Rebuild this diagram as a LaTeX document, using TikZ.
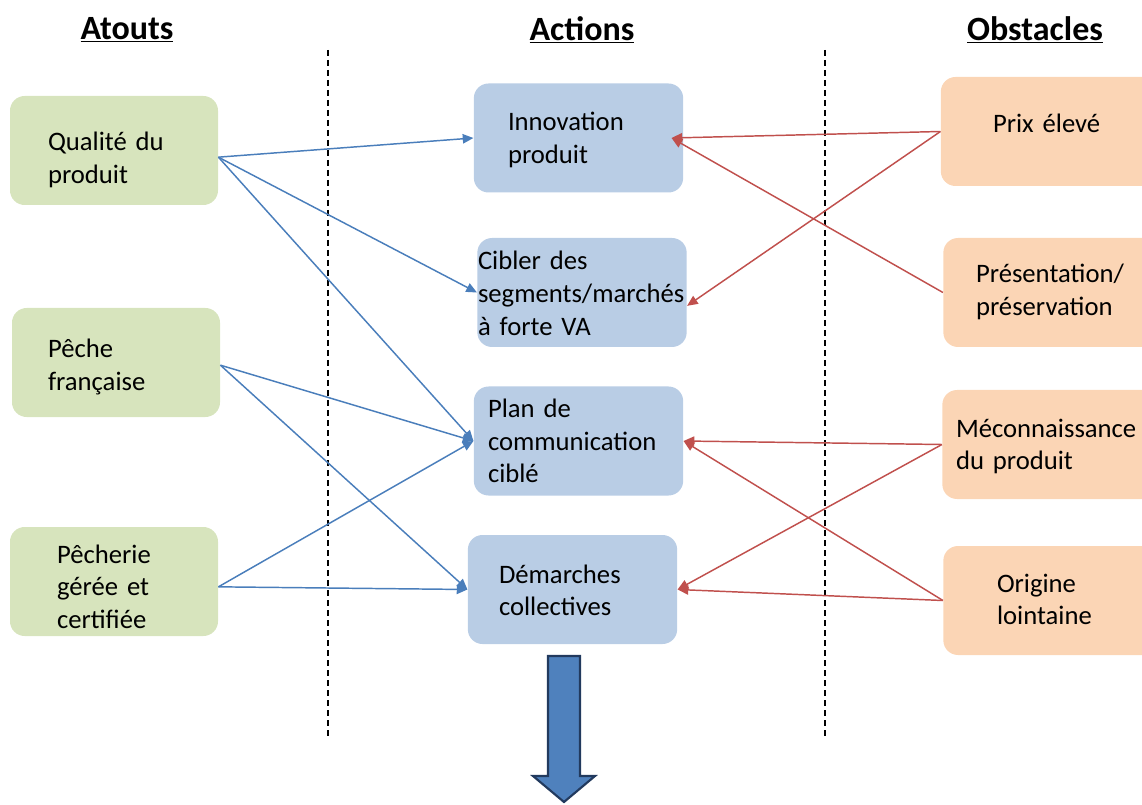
\documentclass[tikz,border=0pt]{standalone}
\usepackage{fontspec}
\setmainfont{Carlito}
\usepackage{tikz}
\usetikzlibrary{arrows.meta,positioning}

\definecolor{atoutfill}{HTML}{D7E4BD}
\definecolor{actionfill}{HTML}{B9CDE5}
\definecolor{obstaclefill}{HTML}{FBD5B5}
\definecolor{atoutline}{HTML}{4A7EBB}
\definecolor{obstacleline}{HTML}{C0504D}
\definecolor{bigarrowfill}{HTML}{4F81BD}
\definecolor{bigarrowline}{HTML}{223A5E}

\begin{document}
\begin{tikzpicture}[x=0.75pt,y=-0.75pt,>={Triangle[length=8pt,width=7pt]},semithick]
\tikzset{box/.style={rounded corners=11pt, inner xsep=0pt, minimum height=81.75pt, align=left,
  text height=0pt, text depth=0pt, font=\fontsize{20}{24.4}\selectfont},
  atout/.style={box, fill=atoutfill, minimum width=156pt},
  action/.style={box, fill=actionfill, minimum width=157pt},
  obstacle/.style={box, fill=obstaclefill, minimum width=163pt},
  heading/.style={font=\fontsize{25.5}{30}\selectfont\bfseries},
  blueline/.style={->, draw=atoutline, fill=atoutline, line width=1.1pt},
  redline/.style={->, draw=obstacleline, fill=obstacleline, line width=1.1pt},
  sep/.style={dashed, dash pattern=on 4.5pt off 3pt, line width=1.1pt}}
\path[use as bounding box] (0,0) rectangle (1142,805);
\clip (0,0) rectangle (1142,805);

\node[heading] (hatout) at (127,30) {\underline{Atouts}};
\node[heading] (haction) at (582,30) {\underline{Actions}};
\node[heading] (hobstacle) at (1035,30) {\underline{Obstacles}};

\coordinate (sepa1) at (328,50);
\coordinate (sepa2) at (328,737);
\coordinate (sepb1) at (825,50);
\coordinate (sepb2) at (825,737);
\draw[sep] (sepa1) -- (sepa2);
\draw[sep] (sepb1) -- (sepb2);

%atouts
\node[atout, text width=99pt] (qualite) at (114,150.5) {Qualit\'e du\\produit};
\node[atout, text width=102pt, text depth=6.75pt] (peche) at (116,362.5) {P\^eche\\fran\c{c}aise};
\node[atout, text width=85.5pt, text depth=27.75pt] (pecherie) at (114,581.5) {P\^echerie\\g\'er\'ee et\\certifi\'ee};

%actions
\node[action, text width=105.75pt, text depth=10.5pt] (innovation) at (578.5,138) {Innovation\\produit};
\node[action, text width=156pt, text depth=33.75pt] (cibler) at (582,292.5) {Cibler des\\segments/march\'es\\\`a forte VA};
\node[action, text width=135.75pt, text depth=35pt] (plan) at (578.5,441) {Plan de\\communication\\cibl\'e};
\node[action, text width=110.25pt, text depth=9.75pt] (demarches) at (572.5,589.5) {D\'emarches\\collectives};

%obstacles
\node[obstacle, text width=84.75pt, text height=2.25pt] (prix) at (1049.5,131.5) {Prix \'elev\'e};
\node[obstacle, text width=114pt, text depth=14.25pt] (presentation) at (1052,292.5) {Pr\'esentation/\\pr\'eservation};
\node[obstacle, text width=142.5pt, text depth=11.25pt] (meconnaissance) at (1051,444.5) {M\'econnaissance\\du produit};
\node[obstacle, text width=82.5pt, text depth=12.75pt] (origine) at (1052,600.5) {Origine\\lointaine};

%paths
\draw[blueline] ([yshift=-5pt]qualite.east) -- (innovation.west);
\draw[blueline] ([yshift=-5pt]qualite.east) -- (cibler.west);
\draw[blueline] ([yshift=-5pt]qualite.east) -- (plan.west);
\draw[blueline] ([yshift=-2pt]peche.east) -- (plan.west);
\draw[blueline] ([yshift=-2pt]peche.east) -- (demarches.west);
\draw[blueline] ([yshift=-4pt]pecherie.east) -- (plan.west);
\draw[blueline] ([yshift=-4pt]pecherie.east) -- (demarches.west);

\draw[redline] (prix.west) -- ([xshift=-9pt]innovation.east);
\draw[redline] (prix.west) -- ([yshift=-10pt]cibler.east);
\draw[redline] (presentation.west) -- ([xshift=-9pt]innovation.east);
\draw[redline] (meconnaissance.west) -- (plan.east);
\draw[redline] (meconnaissance.west) -- (demarches.east);
\draw[redline] (origine.west) -- (plan.east);
\draw[redline] (origine.west) -- (demarches.east);

%big arrow
\draw[fill=bigarrowfill, draw=bigarrowline, line width=1.6pt, line join=miter]
  (548,656) -- (580,656) -- (580,776) -- (595,776) -- (564,802) -- (533,776) -- (548,776) -- cycle;
\end{tikzpicture}
\end{document}
